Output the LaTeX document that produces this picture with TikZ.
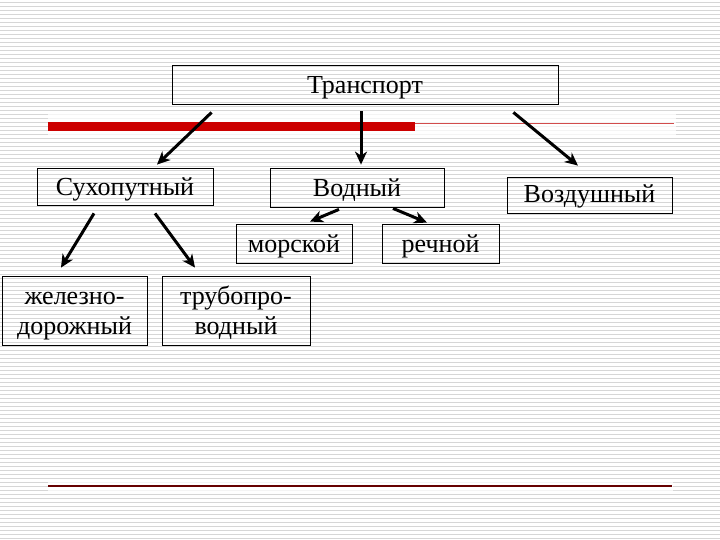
\documentclass[tikz,border=0pt]{standalone}
\usepackage{fontspec}
\setmainfont{Liberation Serif}
\usetikzlibrary{arrows.meta}

\tikzset{
  box/.style={draw, line width=0.8pt, inner sep=0pt, font=\fontsize{26}{30}\selectfont, align=center,
    text height=18pt, text depth=0pt},
  twoline/.style={text height=48pt, text depth=0pt},
  arr/.style={line width=3pt, -{Stealth[length=13pt,width=12pt,inset=4pt]}}
}

\begin{document}
\begin{tikzpicture}[x=1pt,y=-1pt]

\useasboundingbox (0,0) rectangle (720,540);
\fill[white] (0,0) rectangle (720,540);
\foreach \k in {0,...,134}
  \draw[line width=1.3pt, gray!32] (0,2.6+4*\k) -- (720,2.6+4*\k);

% red lines
\fill[white, opacity=0.75] (48,113) rectangle (676,138);
\fill[white, opacity=0.75] (48,479) rectangle (673,494);
\draw[line width=1pt, red!75!black!70] (415,123.5) -- (674,123.5);
\draw[line width=9pt, red!80!black] (48,126.5) -- (415,126.5);
\draw[line width=1.2pt, red!40!black] (48,486) -- (672,486);

\node[box, minimum width=386, minimum height=39] (trans) at (365,84.5) {Транспорт};

\node[box, minimum width=176, minimum height=37] (sukh) at (125,186.5) {Сухопутный};
\node[box, minimum width=174, minimum height=39] (vodn) at (357,187.5) {Водный};
\node[box, minimum width=165, minimum height=36, text height=15pt] (vozd) at (589.5,195) {Воздушный};

\node[box, minimum width=116, minimum height=39] (mors) at (294,243.5) {морской};
\node[box, minimum width=117, minimum height=39] (rech) at (440.5,243.5) {речной};

\node[box, twoline, minimum width=145, minimum height=69] (zhel) at (74.5,310.5) {железно-\\дорожный};
\node[box, twoline, minimum width=148, minimum height=69] (trub) at (236,310.5) {трубопро-\\водный};

\draw[arr] ([xshift=40,yshift=-8]trans.south west) -- ([xshift=32,yshift=3]sukh.north);
\draw[arr] ([xshift=-4,yshift=-7]trans.south) -- ([xshift=4,yshift=3]vodn.north);
\draw[arr] ([xshift=-45,yshift=-8]trans.south east) -- ([xshift=-11.5,yshift=11]vozd.north);

\draw[arr] ([xshift=-31,yshift=-8]sukh.south) -- ([xshift=-13.5,yshift=8]zhel.north);
\draw[arr] ([xshift=30,yshift=-8]sukh.south) -- ([xshift=-41,yshift=8]trub.north);

\draw[arr] ([xshift=-18,yshift=-2]vodn.south) -- ([xshift=16,yshift=2]mors.north);
\draw[arr] ([xshift=36,yshift=-1]vodn.south) -- ([xshift=-13.5,yshift=1]rech.north);

\end{tikzpicture}
\end{document}
